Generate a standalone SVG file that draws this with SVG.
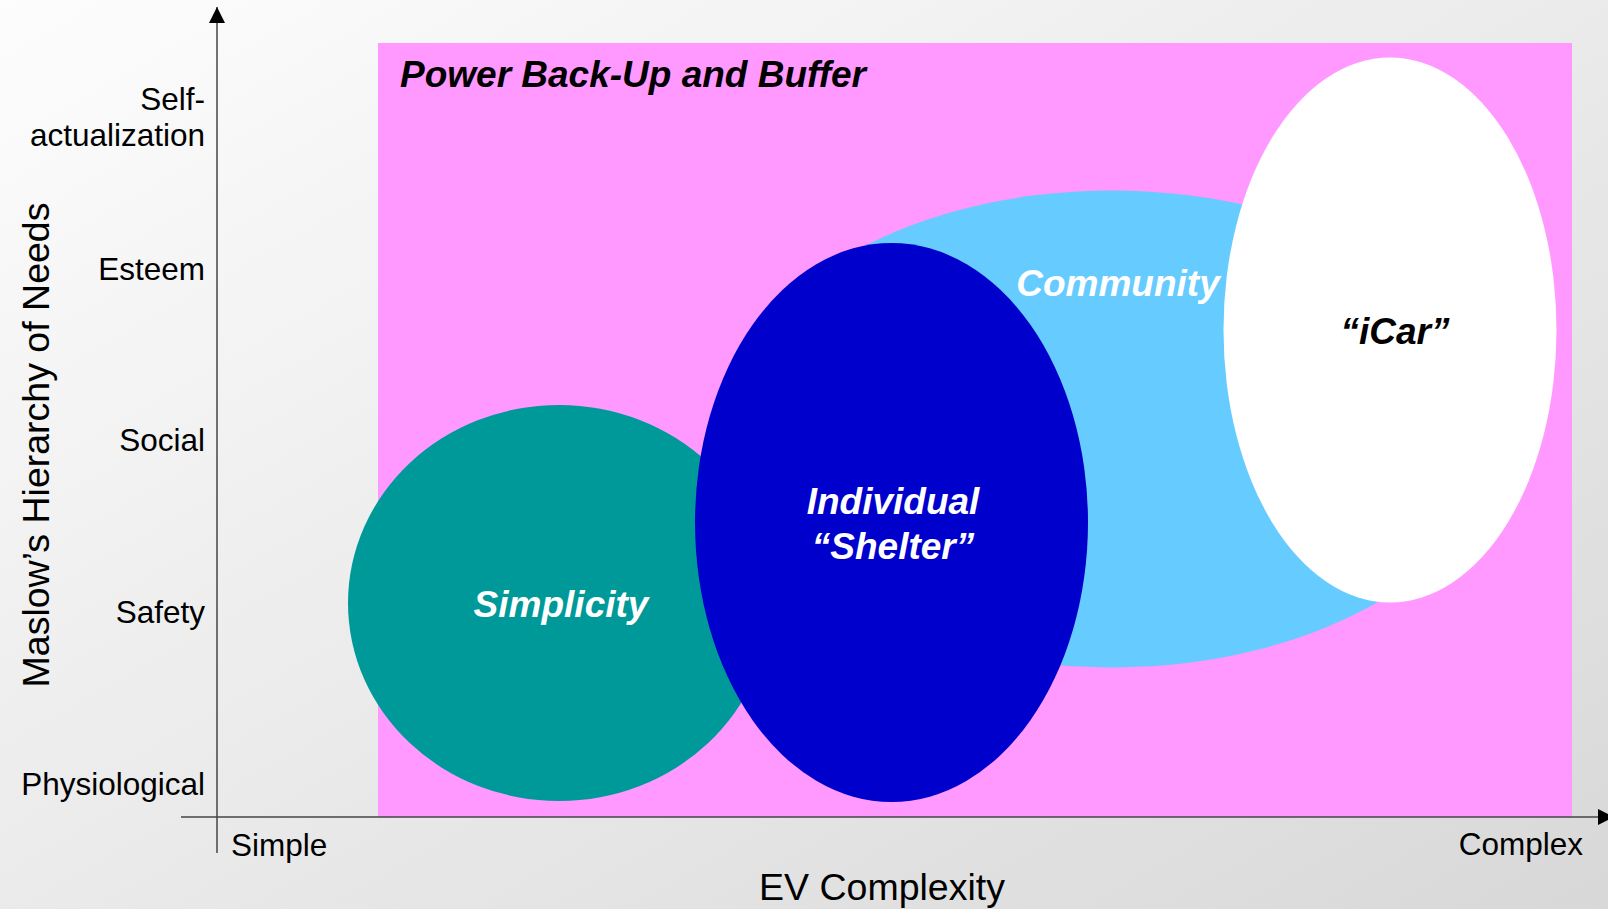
<svg xmlns="http://www.w3.org/2000/svg" width="1608" height="909" viewBox="0 0 1608 909">
  <defs>
    <linearGradient id="bg" x1="0" y1="0" x2="1" y2="1">
      <stop offset="0" stop-color="#fdfdfd"/>
      <stop offset="1" stop-color="#d8d8d8"/>
    </linearGradient>
    <marker id="arrowBig" viewBox="0 0 16 16" refX="16" refY="8" markerWidth="16" markerHeight="16" markerUnits="userSpaceOnUse" orient="auto">
      <path d="M0,0 L16,8 L0,16 Z" fill="#000"/>
    </marker>
  </defs>
  <style>
    .axis { font-family: "Liberation Sans", Arial, sans-serif; font-size: 31.5px; fill: #000; }
    .title { font-family: "Liberation Sans", Arial, sans-serif; font-size: 37.5px; fill: #000; }
    .label { font-family: "Liberation Sans", Arial, sans-serif; font-size: 37px; font-weight: bold; font-style: italic; text-anchor: middle; }
    .line { stroke: #444; stroke-width: 1.5; fill: none; }
  </style>

  <!-- background -->
  <rect x="0" y="0" width="1608" height="909" fill="url(#bg)"/>

  <!-- power back-up region -->
  <g id="power-buffer">
    <rect x="378" y="43" width="1194" height="774" fill="#ff99ff"/>
    <text x="400" y="87" class="label" style="text-anchor:start" fill="#000">Power Back-Up and Buffer</text>
  </g>

  <g id="community">
    <ellipse cx="1112" cy="429" rx="386" ry="238.5" fill="#66ccff"/>
    <text x="1118" y="296" class="label" fill="#fff">Community</text>
  </g>

  <g id="icar">
    <ellipse cx="1390" cy="330" rx="166.5" ry="272.5" fill="#ffffff"/>
    <text x="1395" y="344" class="label" fill="#000">“iCar”</text>
  </g>

  <g id="simplicity">
    <ellipse cx="559" cy="603" rx="211" ry="198" fill="#009999"/>
    <text x="561" y="617" class="label" fill="#fff">Simplicity</text>
  </g>

  <g id="individual-shelter">
    <ellipse cx="891.5" cy="522.5" rx="196.5" ry="279.5" fill="#0000cc"/>
    <text x="893" y="514" class="label" fill="#fff">Individual</text>
    <text x="893" y="559" class="label" fill="#fff">“Shelter”</text>
  </g>

  <!-- axes -->
  <g id="connectors">
    <line x1="217" y1="853" x2="217" y2="7" class="line" marker-end="url(#arrowBig)"/>
    <line x1="181" y1="817" x2="1614" y2="817" class="line" stroke-width="2" marker-end="url(#arrowBig)"/>
  </g>

  <!-- axis labels -->
  <g id="y-labels" class="axis" text-anchor="end">
    <text x="205" y="110">Self-</text>
    <text x="205" y="146">actualization</text>
    <text x="205" y="280">Esteem</text>
    <text x="205" y="451">Social</text>
    <text x="205" y="623">Safety</text>
    <text x="205" y="795">Physiological</text>
  </g>
  <g id="x-labels" class="axis">
    <text x="231" y="856">Simple</text>
    <text x="1583" y="855" text-anchor="end">Complex</text>
  </g>
  <text class="title" x="882" y="900" text-anchor="middle">EV Complexity</text>
  <text class="title" transform="translate(49,445) rotate(-90)" text-anchor="middle">Maslow’s Hierarchy of Needs</text>
</svg>
